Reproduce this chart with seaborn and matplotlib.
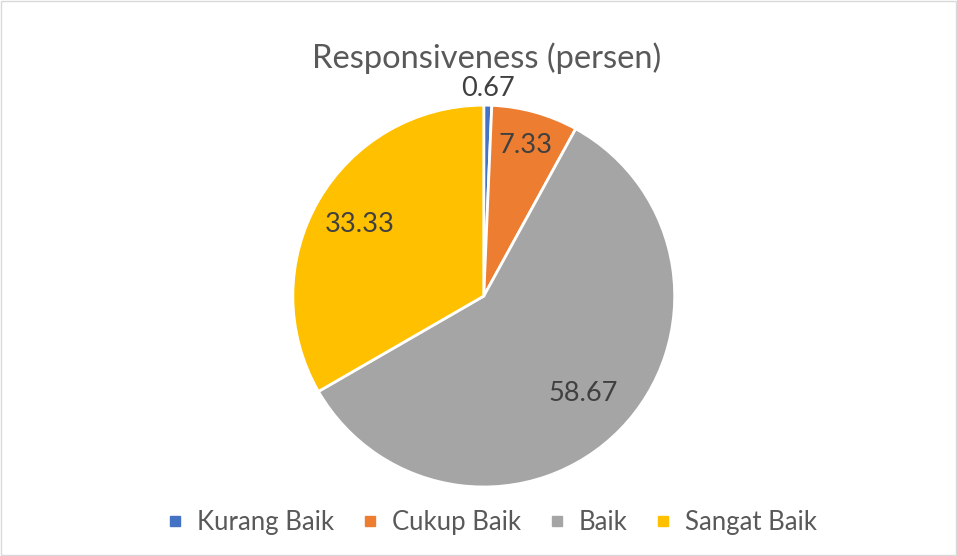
import numpy as np
import matplotlib
matplotlib.use("Agg")
import matplotlib.pyplot as plt
import seaborn as sns
from matplotlib.patches import Rectangle

# data
categories = ['Kurang Baik', 'Cukup Baik', 'Baik', 'Sangat Baik']
values = [0.67, 7.33, 58.67, 33.33]
labels = ['0.67', '7.33', '58.67', '33.33']

sns.set_theme(style="white")
plt.rcParams['font.family'] = ['Lato', 'DejaVu Sans']

colors = ['#4472C4', '#ED7D31', '#A5A5A5', '#FFC000']
text_color = '#595959'

fig = plt.figure(figsize=(9.57, 5.56), dpi=100)
ax = fig.add_axes([0.306, 0.124, 0.399, 0.687])

wedges, _ = ax.pie(values, colors=colors, startangle=90, counterclock=False,
                   wedgeprops=dict(edgecolor='white', linewidth=2))
ax.set_xlim(-1, 1)
ax.set_ylim(-1, 1)
ax.set_aspect('equal')

# data label distances (fraction of radius), like excel's best fit
dists = [1.09, 0.82, 0.73, 0.75]
for w, lab, d in zip(wedges, labels, dists):
    ang = np.deg2rad((w.theta1 + w.theta2) / 2)
    ax.text(d * np.cos(ang), d * np.sin(ang), lab, ha='center', va='center',
            fontsize=19.5, color='#404040', clip_on=False)

fig.text(0.509, 0.895, 'Responsiveness (persen)', ha='center', va='center',
         fontsize=23.5, color=text_color)

handles = [plt.Line2D([0], [0], marker='s', linestyle='', markersize=7.2,
                      markerfacecolor=c, markeredgecolor=c) for c in colors]
fig.legend(handles, categories, loc='center', bbox_to_anchor=(0.513, 0.061),
           ncol=4, frameon=False, fontsize=18.5, handlelength=0.8,
           handletextpad=0.45, columnspacing=1.0, labelcolor=text_color)

fig.patches.append(Rectangle((0.001, 0.001), 0.998, 0.998, transform=fig.transFigure,
                             fill=False, edgecolor='#D9D9D9', linewidth=1))

fig.savefig('out.png', dpi=100)
